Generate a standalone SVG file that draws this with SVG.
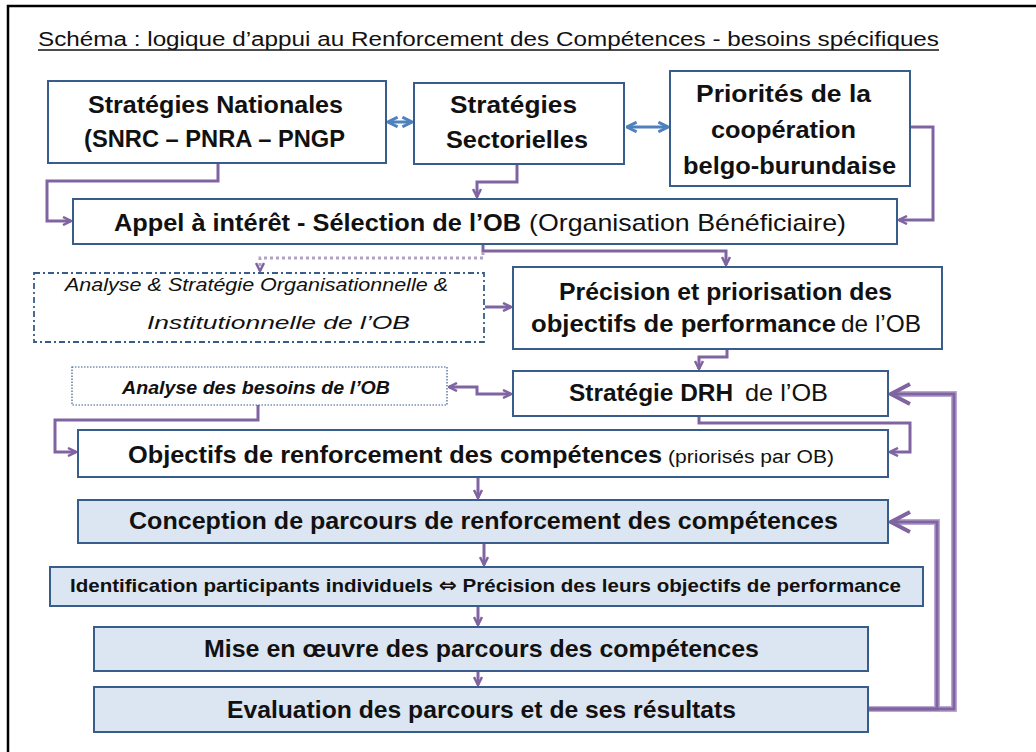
<svg xmlns="http://www.w3.org/2000/svg" width="1036" height="752" viewBox="0 0 1036 752">
<style>
  .box{fill:#fff;stroke:#385D8A;stroke-width:2}
  .lb{fill:#DCE6F2;stroke:#385D8A;stroke-width:2}
  .t{font-family:"Liberation Sans",Arial,sans-serif;fill:#111}
  .b{font-weight:bold}
  .i{font-style:italic}
  .c{fill:none;stroke:#8064A2;stroke-width:3;stroke-linejoin:miter}
  .fb{fill:none;stroke:#B9A9D0;stroke-width:6}
  .fc{fill:none;stroke:#8064A2;stroke-width:3}
  .bl{fill:none;stroke:#4F81BD;stroke-width:3}
</style>
<defs>
  <marker id="ap" viewBox="0 0 10 10" refX="9" refY="5" markerWidth="10" markerHeight="10" markerUnits="userSpaceOnUse" orient="auto-start-reverse">
    <path d="M1,1 L9,5 L1,9" fill="none" stroke="#8064A2" stroke-width="2.5"/>
  </marker>
  <marker id="ab" viewBox="0 0 10 10" refX="9" refY="5" markerWidth="12" markerHeight="12" markerUnits="userSpaceOnUse" orient="auto-start-reverse">
    <path d="M1,1 L9,5 L1,9" fill="none" stroke="#4F81BD" stroke-width="2.5"/>
  </marker>
  <marker id="big" viewBox="0 0 24 24" refX="22" refY="12" markerWidth="24" markerHeight="24" markerUnits="userSpaceOnUse" orient="auto">
    <path d="M2,2 L21,12 L2,22" fill="none" stroke="#8064A2" stroke-width="4"/>
  </marker>
</defs>

<rect x="8" y="6" width="1040" height="760" fill="#fff" stroke="#000" stroke-width="2.5"/>

<g id="title">
  <text class="t" x="38" y="46" font-size="20" textLength="901" lengthAdjust="spacingAndGlyphs">Schéma : logique d’appui au Renforcement des Compétences - besoins spécifiques</text>
  <line x1="38" y1="50" x2="939" y2="50" stroke="#111" stroke-width="1.5"/>
</g>

<g id="connectors">
  <path class="c" d="M218,163 V181 H47 V221 H71" marker-end="url(#ap)"/>
  <path class="c" d="M517,164 V182 H477 V197" marker-end="url(#ap)"/>
  <path class="c" d="M910,127 H933 V220 H899" marker-end="url(#ap)"/>
  <path class="c" d="M483,244 V251 H726 V265" marker-end="url(#ap)"/>
  <path d="M483,252 V258 H260 V271" fill="none" stroke="#B3A2C7" stroke-width="3" stroke-dasharray="3,3" marker-end="url(#ap)"/>
  <path class="c" d="M485,307 H511" marker-end="url(#ap)"/>
  <path class="c" d="M727,349 V357 H699 V369" marker-end="url(#ap)"/>
  <path class="c" d="M449,387 H477 V394 H511" marker-start="url(#ap)" marker-end="url(#ap)"/>
  <path class="c" d="M258,405 V420 H55 V452 H76" marker-end="url(#ap)"/>
  <path class="c" d="M699,416 V423 H910 V452 H890" marker-end="url(#ap)"/>
  <path class="c" d="M478,477 V498" marker-end="url(#ap)"/>
  <path class="c" d="M484,543 V565" marker-end="url(#ap)"/>
  <path class="c" d="M478,606 V625" marker-end="url(#ap)"/>
  <path class="c" d="M478,671 V685" marker-end="url(#ap)"/>
  <path class="bl" d="M388,122 H412" marker-start="url(#ab)" marker-end="url(#ab)"/>
  <path class="bl" d="M627,127 H668" marker-start="url(#ab)" marker-end="url(#ab)"/>
  <path class="fb" d="M868,709 H954 V394 H892"/>
  <path class="fb" d="M868,709 H937 V522 H892"/>
  <path class="fc" d="M868,709 H954 V394 H890" marker-end="url(#big)"/>
  <path class="fc" d="M868,709 H937 V522 H890" marker-end="url(#big)"/>
</g>

<g id="strategies-nationales">
  <rect class="box" x="48" y="81" width="338" height="82"/>
  <text class="t b" x="88" y="113" font-size="24" textLength="255" lengthAdjust="spacingAndGlyphs">Stratégies Nationales</text>
  <text class="t b" x="84" y="147" font-size="24" textLength="261" lengthAdjust="spacingAndGlyphs">(SNRC – PNRA – PNGP</text>
</g>

<g id="strategies-sectorielles">
  <rect class="box" x="414" y="83" width="210" height="81"/>
  <text class="t b" x="450" y="113" font-size="24" textLength="127" lengthAdjust="spacingAndGlyphs">Stratégies</text>
  <text class="t b" x="446" y="148" font-size="24" textLength="142" lengthAdjust="spacingAndGlyphs">Sectorielles</text>
</g>

<g id="priorites">
  <rect class="box" x="670" y="71" width="240" height="115"/>
  <text class="t b" x="696" y="102" font-size="24" textLength="175" lengthAdjust="spacingAndGlyphs">Priorités de la</text>
  <text class="t b" x="711" y="138" font-size="24" textLength="145" lengthAdjust="spacingAndGlyphs">coopération</text>
  <text class="t b" x="683" y="174" font-size="24" textLength="213" lengthAdjust="spacingAndGlyphs">belgo-burundaise</text>
</g>

<g id="appel">
  <rect class="box" x="73" y="199" width="824" height="45"/>
  <text class="t b" x="114" y="231" font-size="24" textLength="407" lengthAdjust="spacingAndGlyphs">Appel à intérêt - Sélection de l’OB</text>
  <text class="t" x="529" y="231" font-size="24" textLength="317" lengthAdjust="spacingAndGlyphs">(Organisation Bénéficiaire)</text>
</g>

<g id="analyse-strategie">
  <rect x="34" y="273" width="450" height="69" fill="#fff" stroke="#385D8A" stroke-width="1.8" stroke-dasharray="6,3,2,3"/>
  <text class="t i" x="65" y="291" font-size="18" textLength="383" lengthAdjust="spacingAndGlyphs">Analyse &amp; Stratégie Organisationnelle &amp;</text>
  <text class="t i" x="147" y="329" font-size="18" textLength="263" lengthAdjust="spacingAndGlyphs">Institutionnelle de l’OB</text>
</g>

<g id="precision">
  <rect class="box" x="513" y="267" width="429" height="82"/>
  <text class="t b" x="559" y="300" font-size="24" textLength="333" lengthAdjust="spacingAndGlyphs">Précision et priorisation des</text>
  <text class="t b" x="531" y="332" font-size="24" textLength="305" lengthAdjust="spacingAndGlyphs">objectifs de performance</text>
  <text class="t" x="841" y="332" font-size="24" textLength="80" lengthAdjust="spacingAndGlyphs">de l’OB</text>
</g>

<g id="strategie-drh">
  <rect class="box" x="513" y="371" width="375" height="45"/>
  <text class="t b" x="569" y="401" font-size="24" textLength="164" lengthAdjust="spacingAndGlyphs">Stratégie DRH</text>
  <text class="t" x="745" y="401" font-size="24" textLength="83" lengthAdjust="spacingAndGlyphs">de l’OB</text>
</g>

<g id="analyse-besoins">
  <rect x="72" y="367" width="375" height="38" fill="#fff" stroke="#385D8A" stroke-width="1.2" stroke-dasharray="1.5,1.5"/>
  <text class="t b i" x="122" y="394" font-size="18" textLength="268" lengthAdjust="spacingAndGlyphs">Analyse des besoins de l’OB</text>
</g>

<g id="objectifs">
  <rect class="box" x="78" y="430" width="810" height="47"/>
  <text class="t b" x="128" y="463" font-size="24" textLength="534" lengthAdjust="spacingAndGlyphs">Objectifs de renforcement des compétences</text>
  <text class="t" x="668" y="463" font-size="18" textLength="166" lengthAdjust="spacingAndGlyphs">(priorisés par OB)</text>
</g>

<g id="conception">
  <rect class="lb" x="78" y="500" width="810" height="43"/>
  <text class="t b" x="129" y="529" font-size="24" textLength="709" lengthAdjust="spacingAndGlyphs">Conception de parcours de renforcement des compétences</text>
</g>

<g id="identification">
  <rect class="lb" x="50" y="567" width="873" height="39"/>
  <text class="t b" x="70" y="592" font-size="19" textLength="831" lengthAdjust="spacingAndGlyphs">Identification participants individuels <tspan font-family="'DejaVu Sans',sans-serif" font-size="20">⇔</tspan> Précision des leurs objectifs de performance</text>
</g>

<g id="mise-en-oeuvre">
  <rect class="lb" x="94" y="627" width="774" height="44"/>
  <text class="t b" x="204" y="657" font-size="24" textLength="555" lengthAdjust="spacingAndGlyphs">Mise en œuvre des parcours des compétences</text>
</g>

<g id="evaluation">
  <rect class="lb" x="94" y="687" width="774" height="45"/>
  <text class="t b" x="227" y="718" font-size="24" textLength="509" lengthAdjust="spacingAndGlyphs">Evaluation des parcours et de ses résultats</text>
</g>
</svg>
